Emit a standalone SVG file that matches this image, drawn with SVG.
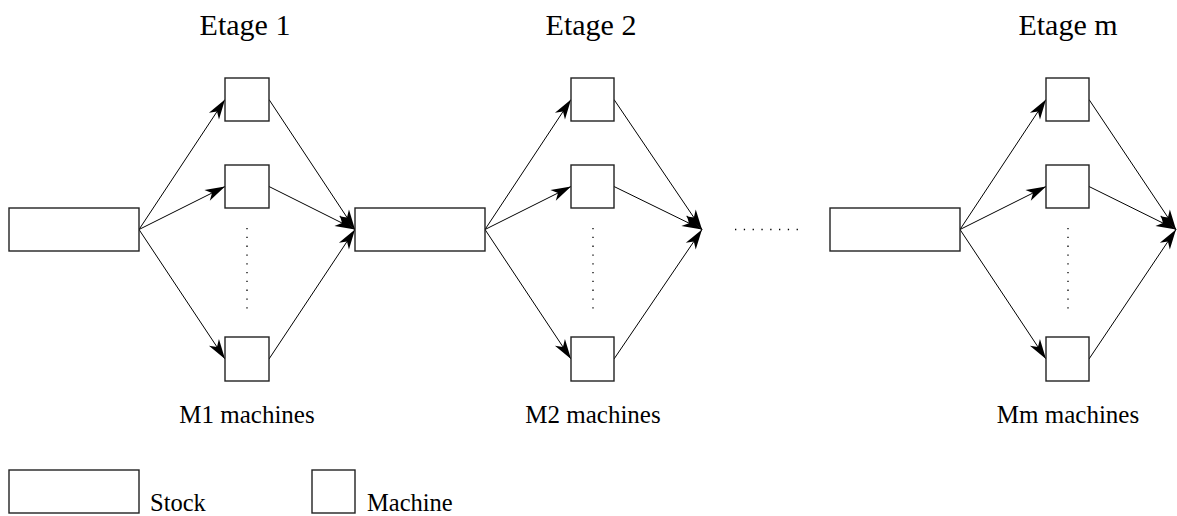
<svg xmlns="http://www.w3.org/2000/svg" width="1177" height="516" viewBox="0 0 1177 516">
<style>
.box{fill:#fff;stroke:#222;stroke-width:1.4}
.ln{stroke:#000;stroke-width:1;fill:none;marker-end:url(#ah)}
.dot{stroke:#000;stroke-width:1.3;stroke-dasharray:1.3 7.5;fill:none}
.t{font-family:"Liberation Serif","Times New Roman",serif;fill:#000}
.title{font-size:30px;text-anchor:middle}
.lab{font-size:25px;text-anchor:middle}
.leg{font-size:24.5px}
</style>
<defs>
<marker id="ah" markerUnits="userSpaceOnUse" markerWidth="26" markerHeight="16" viewBox="-22 -8 24 16" refX="0" refY="0" orient="auto">
<path d="M0,0 L-20,-6 L-14.5,0 L-20,6 Z" fill="#000"/>
</marker>
</defs>
<g id="titles">
<text class="t title" x="245" y="35">Etage 1</text>
<text class="t title" x="591" y="35">Etage 2</text>
<text class="t title" x="1068" y="35">Etage m</text>
</g>
<g id="connectors">
<line class="ln" x1="139" y1="229.5" x2="225" y2="99.5"/>
<line class="ln" x1="139" y1="229.5" x2="225" y2="186.5"/>
<line class="ln" x1="139" y1="229.5" x2="225" y2="359"/>
<line class="ln" x1="269" y1="99.5" x2="355" y2="229.5"/>
<line class="ln" x1="269" y1="186.5" x2="355" y2="229.5"/>
<line class="ln" x1="269" y1="359" x2="355" y2="229.5"/>
<line class="ln" x1="485" y1="229.5" x2="571" y2="99.5"/>
<line class="ln" x1="485" y1="229.5" x2="571" y2="186.5"/>
<line class="ln" x1="485" y1="229.5" x2="571" y2="359"/>
<line class="ln" x1="614" y1="99.5" x2="702" y2="229.5"/>
<line class="ln" x1="614" y1="186.5" x2="702" y2="229.5"/>
<line class="ln" x1="614" y1="359" x2="702" y2="229.5"/>
<line class="ln" x1="960" y1="229.5" x2="1046" y2="99.5"/>
<line class="ln" x1="960" y1="229.5" x2="1046" y2="186.5"/>
<line class="ln" x1="960" y1="229.5" x2="1046" y2="359"/>
<line class="ln" x1="1089" y1="99.5" x2="1176" y2="229.5"/>
<line class="ln" x1="1089" y1="186.5" x2="1176" y2="229.5"/>
<line class="ln" x1="1089" y1="359" x2="1176" y2="229.5"/>
</g>
<g id="dots">
<line class="dot" x1="247" y1="228" x2="247" y2="309"/>
<line class="dot" x1="593" y1="228" x2="593" y2="309"/>
<line class="dot" x1="1068" y1="228" x2="1068" y2="309"/>
<line class="dot" x1="735" y1="229.5" x2="800" y2="229.5"/>
</g>
<g id="stock1"><rect class="box" x="9" y="208" width="130" height="43"/></g>
<g id="stage1-machines">
<rect class="box" x="225" y="78" width="44" height="43"/>
<rect class="box" x="225" y="165" width="44" height="43"/>
<rect class="box" x="225" y="337" width="44" height="44"/>
</g>
<g id="stock2"><rect class="box" x="355" y="208" width="130" height="43"/></g>
<g id="stage2-machines">
<rect class="box" x="571" y="78" width="43" height="43"/>
<rect class="box" x="571" y="165" width="43" height="43"/>
<rect class="box" x="571" y="337" width="43" height="44"/>
</g>
<g id="stock3"><rect class="box" x="830" y="208" width="130" height="43"/></g>
<g id="stagem-machines">
<rect class="box" x="1046" y="78" width="43" height="43"/>
<rect class="box" x="1046" y="165" width="43" height="43"/>
<rect class="box" x="1046" y="337" width="43" height="44"/>
</g>
<g id="labels">
<text class="t lab" x="247" y="423">M1 machines</text>
<text class="t lab" x="593" y="423">M2 machines</text>
<text class="t lab" x="1068" y="423">Mm machines</text>
</g>
<g id="legend">
<rect class="box" x="9" y="470" width="130" height="43"/>
<text class="t leg" x="150" y="511">Stock</text>
<rect class="box" x="312" y="470" width="43" height="43"/>
<text class="t leg" x="367" y="511">Machine</text>
</g>
</svg>
